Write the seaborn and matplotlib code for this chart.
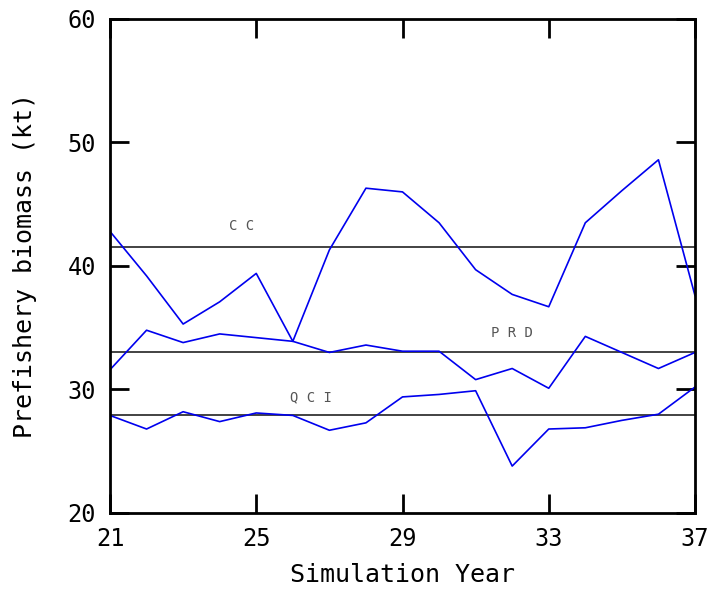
import matplotlib
matplotlib.use("Agg")
import matplotlib.pyplot as plt
import seaborn as sns
import pandas as pd

years = list(range(21, 38))
cc = [42.8, 39.2, 35.3, 37.1, 39.4, 33.9, 41.3, 46.3, 46.0, 43.5, 39.7, 37.7, 36.7, 43.5, 46.1, 48.6, 37.6]
prd = [31.6, 34.8, 33.8, 34.5, 34.2, 33.9, 33.0, 33.6, 33.1, 33.1, 30.8, 31.7, 30.1, 34.3, 33.0, 31.7, 33.0]
qci = [27.9, 26.8, 28.2, 27.4, 28.1, 27.9, 26.7, 27.3, 29.4, 29.6, 29.9, 23.8, 26.8, 26.9, 27.5, 28.0, 30.2]
regions = ["CC", "PRD", "QCI"]
ref_levels = [41.5, 33.0, 27.9]
label_text = ["C C", "P R D", "Q C I"]
label_x = [24.6, 32.0, 26.5]
label_y = [43.2, 34.6, 29.4]
xticks = [21, 25, 29, 33, 37]
yticks = [20, 30, 40, 50, 60]

df = pd.DataFrame({
    "year": years * 3,
    "biomass": cc + prd + qci,
    "region": sum([[r] * len(years) for r in regions], []),
})

sns.set_style("white")
plt.rcParams["font.family"] = ["DejaVu Sans Mono", "DejaVu Sans"]

fig = plt.figure(figsize=(7.13, 5.90), dpi=100)
ax = fig.add_axes([110 / 713, 1 - 513 / 590, 585 / 713, 494 / 590])

sns.lineplot(data=df, x="year", y="biomass", hue="region",
             palette=["#0000ee"] * 3, linewidth=1.2, legend=False, ax=ax)

for lvl in ref_levels:
    ax.axhline(lvl, color="#222222", linewidth=1.2, zorder=1)

for t, x, y in zip(label_text, label_x, label_y):
    ax.text(x, y, t, ha="center", va="center", fontsize=10, color="#555555",
            family="DejaVu Sans Mono")

ax.set_xlim(21, 37)
ax.set_ylim(20, 60)
ax.set_xticks(xticks)
ax.set_yticks(yticks)
ax.tick_params(direction="in", length=14, width=2, top=True, right=True,
               bottom=True, left=True, labelsize=17, pad=10, colors="black")
ax.set_xticklabels([str(v) for v in xticks])
ax.set_yticklabels([str(v) for v in yticks])
for s in ax.spines.values():
    s.set_linewidth(2)
    s.set_color("black")

ax.set_xlabel("Simulation Year", fontsize=18, labelpad=9, color="black")
ax.set_ylabel("Prefishery biomass (kt)", fontsize=18, labelpad=22, color="black")

fig.savefig("out.png", dpi=100)
